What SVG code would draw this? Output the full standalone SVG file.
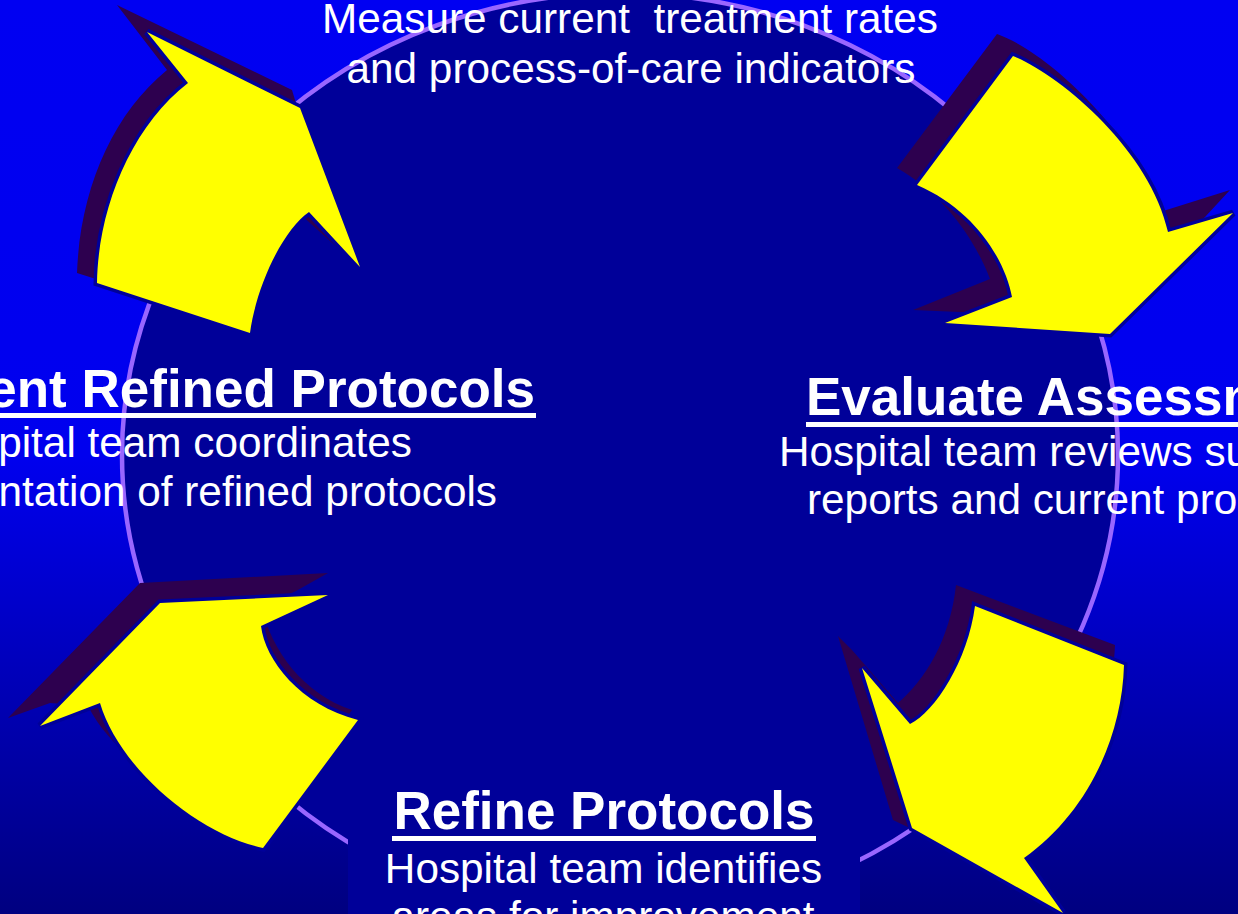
<svg xmlns="http://www.w3.org/2000/svg" width="1238" height="914" viewBox="0 0 1238 914">
<style>
.h{font-family:"Liberation Sans",Arial,sans-serif;font-weight:bold;font-size:53px;fill:#FFFFFF}
.b{font-family:"Liberation Sans",Arial,sans-serif;font-size:42.3px;fill:#FFFFFF}
.ul{fill:#FFFFFF}
.shd{fill:#2D004F}
.yel{fill:#FFFF00;stroke:#000099;stroke-width:7;stroke-linejoin:miter;stroke-miterlimit:4;paint-order:stroke}
</style>
<defs>
<linearGradient id="bg" x1="0" y1="0" x2="0" y2="1">
<stop offset="0" stop-color="#0000F2"/>
<stop offset="0.5" stop-color="#0000EE"/>
<stop offset="1" stop-color="#000080"/>
</linearGradient>
</defs>
<rect x="0" y="0" width="1238" height="914" fill="url(#bg)"/>
<ellipse id="cycle" cx="620" cy="455" rx="498" ry="462" fill="#000099" stroke="#9966FF" stroke-width="4.5"/>
<g id="connectors">
<g id="arrow-implement-to-measure">
<path class="shd" d="M117,5 L292,90 L340,250 L290,205 C270,225 240,270 232,322 L77,273 C80,190 112,115 167,70 Z"/>
<path class="yel" d="M147,32 L300,108 L360,267 L309,212 C285,228 257,282 250,333 L97,283 C98,210 130,128 188,83 Z"/>
</g>
<g id="arrow-measure-to-evaluate">
<path class="shd" d="M997,34 C1048,52 1133,132 1160,212 L1230,190 L1205,217 L1100,318 L913,310 L990,279 C975,240 945,195 897,168 Z"/>
<path class="yel" d="M1013,56 C1060,75 1150,150 1168,232 L1233,213 L1110,334 L945,323 L1012,297 C1005,260 975,210 917,185 Z"/>
</g>
<g id="arrow-evaluate-to-refine">
<path class="shd" d="M956,585 L1115,645 C1112,720 1075,800 1012,840 L1050,895 L893,820 L838,636 L852,650 L898,703 C925,680 950,640 956,585 Z"/>
<path class="yel" d="M975,606 L1124,665 C1122,740 1085,815 1024,858 L1063,913 L912,828 L862,668 L910,724 C935,712 968,660 975,606 Z"/>
</g>
<g id="arrow-refine-to-implement">
<path class="shd" d="M140,583 L328,573 L296,591 L262,606 C270,650 305,695 352,710 L263,830 C190,805 115,760 88,706 L50,703 L8,718 Z"/>
<path class="yel" d="M160,603 L328,595 L261,626 C265,660 300,705 358,720 L263,848 C200,835 120,770 100,703 L40,726 Z"/>
</g>
</g>
<g id="node-measure">
<text class="b" x="630" y="33" text-anchor="middle" font-size="42.6" xml:space="preserve">Measure current  treatment rates</text>
<text class="b" x="631" y="83" text-anchor="middle" font-size="42.6">and process-of-care indicators</text>
</g>
<g id="node-evaluate">
<text class="h" x="806" y="415">Evaluate Assessm</text>
<rect class="ul" x="806" y="422" width="432" height="5"/>
<text class="b" x="779" y="466">Hospital team reviews su</text>
<text class="b" x="807" y="514">reports and current pro</text>
</g>
<g id="node-refine">
<rect x="348" y="777" width="512" height="137" fill="#000099"/>
<text class="h" x="604" y="829" text-anchor="middle">Refine Protocols</text>
<rect class="ul" x="392" y="836" width="424" height="5"/>
<text class="b" x="603.5" y="883" text-anchor="middle">Hospital team identifies</text>
<text class="b" x="603" y="931" text-anchor="middle">areas for improvement</text>
</g>
<g id="node-implement">
<text class="h" x="535" y="407" text-anchor="end" font-size="52">ent Refined Protocols</text>
<rect class="ul" x="0" y="413" width="536" height="5"/>
<text class="b" x="412" y="457" text-anchor="end">pital team coordinates</text>
<text class="b" x="497" y="506" text-anchor="end">ntation of refined protocols</text>
</g>
</svg>
